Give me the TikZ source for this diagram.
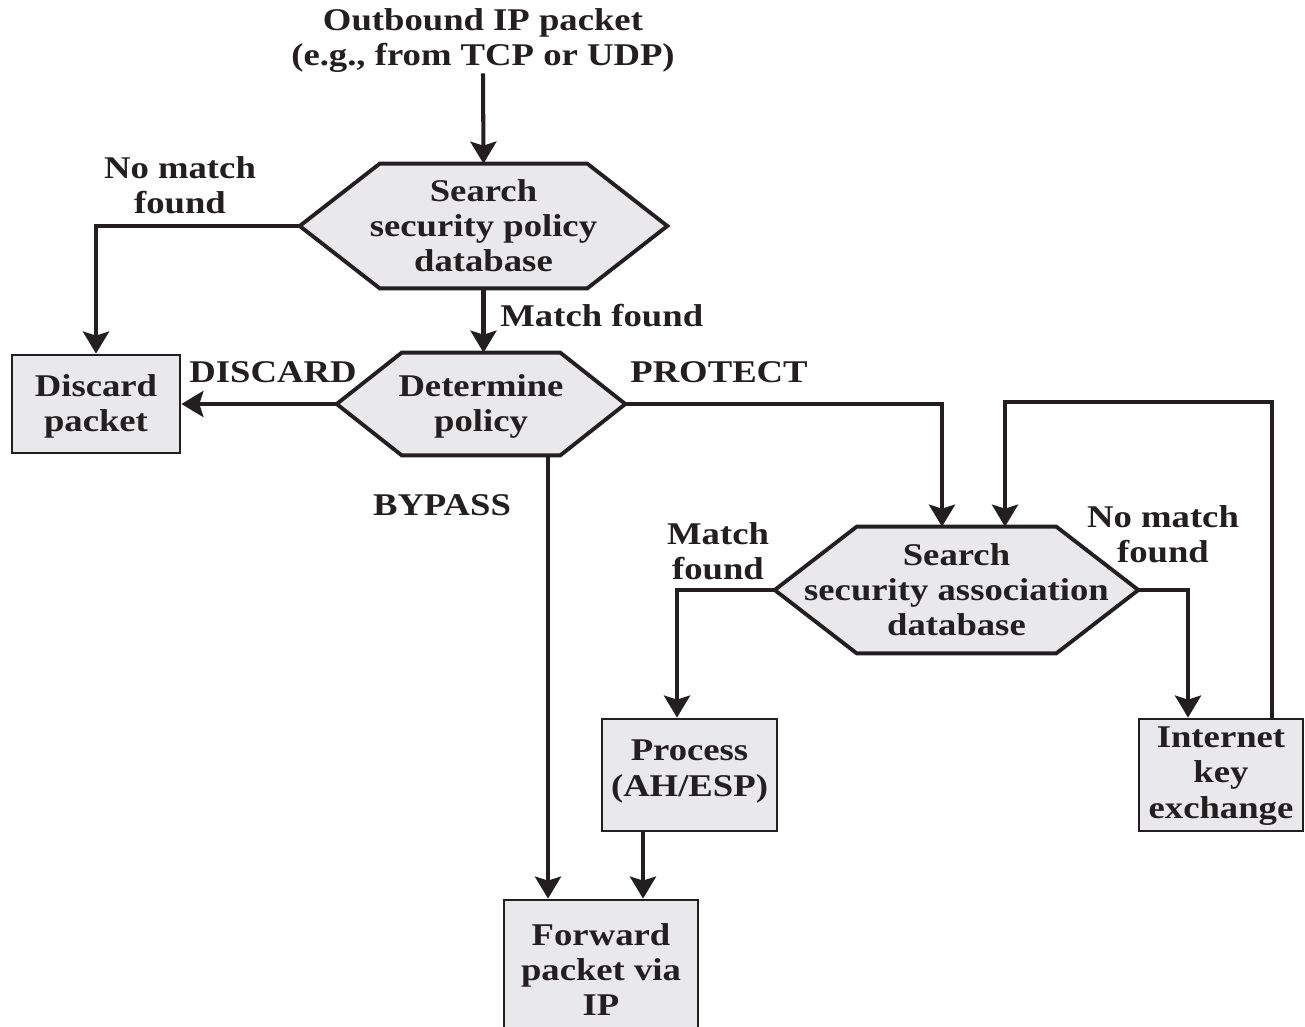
\documentclass[tikz,border=0pt]{standalone}
\usepackage{fontspec}
\setmainfont{Liberation Serif}
\usepackage{graphicx}
\usetikzlibrary{arrows.meta,calc,backgrounds}
\definecolor{boxfill}{HTML}{E9E9EB}
\definecolor{ink}{HTML}{231F20}
% wide bold label text, several centred lines, optionally nudged up or down
\newcommand\lbl[2][-1.8pt]{\raisebox{#1}[\height][\depth]{\scalebox{1.16}[1]{\begin{tabular}{@{}c@{}}#2\end{tabular}}}}
% hexagonal decision outline around a (borderless) node
\newcommand\hexpath[2]{%
  \filldraw[hexline] (#1.west) -- ($(#1.north west)+(#2,0)$) -- ($(#1.north east)+(-#2,0)$)
    -- (#1.east) -- ($(#1.south east)+(-#2,0)$) -- ($(#1.south west)+(#2,0)$) -- cycle;}
\begin{document}
\begin{tikzpicture}[x=0.02cm,y=-0.02cm,
  every node/.style={font=\fontsize{18}{20}\selectfont\bfseries, text=ink, inner sep=0pt},
  procbox/.style={draw=ink, line width=1.6pt, fill=boxfill},
  hexline/.style={draw=ink, line width=2.2pt, fill=boxfill, line join=miter},
  wire/.style={draw=ink, line width=2.3pt},
  arr/.style={wire, -{Stealth[length=0.44cm,width=0.52cm,inset=0.08cm]}}]
\useasboundingbox (0,0) rectangle (1305,1027);

% entry text
\node (in) at (483,38) {\lbl{Outbound IP packet\\(e.g., from TCP or UDP)}};

% decision nodes (hexagons)
\node[minimum width=7.34cm, minimum height=2.48cm] (spd) at (483.5,226)
  {\lbl{Search\\security policy\\database}};
\node[minimum width=5.76cm, minimum height=2.04cm] (pol) at (481,404)
  {\lbl{Determine\\policy}};
\node[minimum width=7.26cm, minimum height=2.52cm] (sad) at (956.5,590)
  {\lbl{Search\\security association\\database}};
\begin{scope}[on background layer]
  \hexpath{spd}{80}
  \hexpath{pol}{65}
  \hexpath{sad}{82}
\end{scope}

% action boxes
\node[procbox, minimum width=3.36cm, minimum height=1.96cm] (discard) at (96,404)
  {\lbl{Discard\\packet}};
\node[procbox, minimum width=3.5cm, minimum height=2.24cm] (proc) at (689.5,775)
  {\lbl[2pt]{Process\\(AH/ESP)}};
\node[procbox, minimum width=3.28cm, minimum height=2.24cm] (ike) at (1221,775)
  {\lbl[-0.5pt]{Internet\\key\\exchange}};
\node[procbox, minimum width=3.88cm, minimum height=2.76cm] (fwd) at (601,969)
  {\lbl[-2.5pt]{Forward\\packet via\\IP}};

% branch labels
\node at (180,186) {\lbl{No match\\found}};
\node[anchor=west] at (500,316) {\lbl{Match found}};
\node at (273,372) {\lbl{DISCARD}};
\node at (719,372) {\lbl{PROTECT}};
\node at (442,505) {\lbl{BYPASS}};
\node at (718,552) {\lbl{Match\\found}};
\node at (1163,535) {\lbl{No match\\found}};

% routing points
\coordinate (bx) at (548,0);
\coordinate (px) at (643,0);
\coordinate (mx) at (677,0);
\coordinate (nx) at (1188,0);
\coordinate (tx) at (942,0);
\coordinate (k1) at (1272,402);
\coordinate (k2) at (1005,402);

% connectors
\draw[arr] (in.south) -- (spd.north);
\draw[arr] (spd.west) -| (discard.north);
\draw[arr] (spd.south) -- (spd.south |- pol.north);
\draw[arr] (pol.west) -- (discard.east);
\draw[arr] (pol.east) -| (sad.north -| tx);
\draw[arr] (pol.south -| bx) -- (fwd.north -| bx);
\draw[arr] (sad.west) -| (proc.north -| mx);
\draw[arr] (sad.east) -| (ike.north -| nx);
\draw[arr] (ike.north -| k1) -- (k1) -- (k2) -- (sad.north -| k2);
\draw[arr] (proc.south -| px) -- (fwd.north -| px);
\end{tikzpicture}
\end{document}
